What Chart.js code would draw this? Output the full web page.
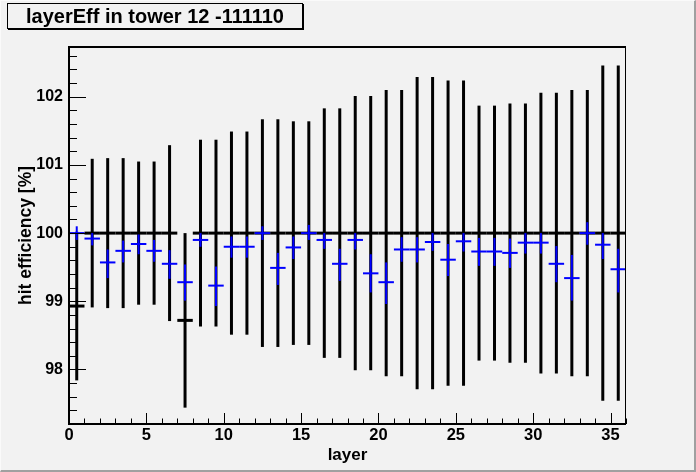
<!DOCTYPE html>
<html>
<head>
<meta charset="utf-8">
<script src="https://cdn.jsdelivr.net/npm/chart.js@4.4.1/dist/chart.umd.min.js"></script>
<style>
    html, body { margin: 0; padding: 0; background: #f2f2f2; }
    #wrap { position: relative; width: 696px; height: 472px; }
    #frame {
        position: absolute; left: 0; top: 0; width: 696px; height: 472px;
        box-sizing: border-box; pointer-events: none;
        border-top: 1px solid #fafafa; border-left: 1px solid #fafafa;
        border-right: 2px solid #a0a0a0; border-bottom: 2px solid #a0a0a0;
    }
    #title {
        position: absolute; left: 7px; top: 3px; width: 296px; height: 26px;
        box-sizing: border-box; border: 1px solid #000; box-shadow: 1px 1px 0 #000;
        background: #f2f2f2;
        font: bold 20px "Liberation Sans", Arial, sans-serif;
        text-align: center; line-height: 25px; color: #000;
    }
</style>
</head>
<body>
<div id="wrap">
    <canvas id="effChart" width="696" height="472"></canvas>
    <div id="title">layerEff in tower 12 -111110</div>
    <div id="frame"></div>
</div>
<script>
// layer index (bin low edge), one bin per layer
var layers = [0, 1, 2, 3, 4, 5, 6, 7, 8, 9, 10, 11, 12, 13, 14, 15, 16, 17,
    18, 19, 20, 21, 22, 23, 24, 25, 26, 27, 28, 29, 30, 31, 32, 33, 34, 35];

// black histogram: reference efficiency and its error
var refEff = [98.93, 100, 100, 100, 100, 100, 100, 98.72, 100, 100, 100, 100,
    100, 100, 100, 100, 100, 100, 100, 100, 100, 100, 100, 100,
    100, 100, 100, 100, 100, 100, 100, 100, 100, 100, 100, 100];
var refErr = [1.09, 1.09, 1.10, 1.10, 1.05, 1.05, 1.29, 1.28, 1.37, 1.37, 1.49, 1.49,
    1.67, 1.67, 1.64, 1.64, 1.83, 1.83, 2.01, 2.01, 2.10, 2.10, 2.29, 2.29,
    2.24, 2.24, 1.87, 1.87, 1.90, 1.90, 2.06, 2.06, 2.10, 2.10, 2.46, 2.46];

// blue points: measured hit efficiency, asymmetric errors
var hitEff = [100.0, 99.92, 99.57, 99.74, 99.84, 99.74, 99.55, 99.28, 99.90, 99.23, 99.80, 99.80,
    100.0, 99.49, 99.79, 100.0, 99.90, 99.55, 99.90, 99.41, 99.28, 99.76, 99.76, 99.87,
    99.61, 99.88, 99.73, 99.73, 99.71, 99.86, 99.86, 99.55, 99.34, 100.0, 99.83, 99.47];
var hitErrHi = [0.10, 0.08, 0.19, 0.15, 0.14, 0.16, 0.20, 0.26, 0.10, 0.28, 0.15, 0.15,
    0.10, 0.22, 0.16, 0.12, 0.10, 0.22, 0.10, 0.28, 0.29, 0.18, 0.18, 0.13,
    0.23, 0.12, 0.20, 0.20, 0.21, 0.14, 0.14, 0.26, 0.34, 0.16, 0.17, 0.30];
var hitErrLo = [0.10, 0.10, 0.23, 0.17, 0.15, 0.16, 0.22, 0.27, 0.10, 0.30, 0.16, 0.16,
    0.10, 0.25, 0.17, 0.10, 0.13, 0.25, 0.14, 0.28, 0.32, 0.18, 0.19, 0.13,
    0.24, 0.15, 0.21, 0.21, 0.22, 0.16, 0.16, 0.27, 0.33, 0.17, 0.21, 0.34];

var yLabels = [98, 99, 100, 101, 102];
var xLabels = [0, 5, 10, 15, 20, 25, 30, 35];

var fontFamily = '"Liberation Sans", Arial, sans-serif';

function seg(ctx, x0, y0, x1, y1) {
    ctx.beginPath();
    ctx.moveTo(x0, y0);
    ctx.lineTo(x1, y1);
    ctx.stroke();
}

// ROOT-like drawing: per-bin horizontal bars + vertical error bars, inner ticks, frame
var rootStyle = {
    id: "rootStyle",
    afterDatasetsDraw: function (chart) {
        var ctx = chart.ctx;
        var a = chart.chartArea;
        var xs = chart.scales.x;
        var ys = chart.scales.y;
        ctx.save();
        ctx.lineCap = "butt";

        // reference histogram
        ctx.strokeStyle = "#000";
        ctx.lineWidth = 3;
        layers.forEach(function (l, i) {
            var x0 = xs.getPixelForValue(l);
            var x1 = xs.getPixelForValue(l + 1);
            var xc = xs.getPixelForValue(l + 0.5);
            var yv = ys.getPixelForValue(refEff[i]);
            seg(ctx, x0, yv, x1, yv);
            seg(ctx, xc, ys.getPixelForValue(refEff[i] + refErr[i]),
                xc, ys.getPixelForValue(refEff[i] - refErr[i]));
        });

        // measured efficiency
        ctx.strokeStyle = "#0000ff";
        ctx.lineWidth = 2;
        layers.forEach(function (l, i) {
            var x0 = xs.getPixelForValue(l);
            var x1 = xs.getPixelForValue(l + 1);
            var xc = xs.getPixelForValue(l + 0.5);
            var yv = ys.getPixelForValue(hitEff[i]);
            seg(ctx, x0, yv, x1, yv);
            seg(ctx, xc, ys.getPixelForValue(hitEff[i] + hitErrHi[i]),
                xc, ys.getPixelForValue(hitEff[i] - hitErrLo[i]));
        });

        // tick marks inside the frame
        ctx.strokeStyle = "#000";
        ctx.lineWidth = 1;
        ys.ticks.forEach(function (t) {
            var py = Math.round(ys.getPixelForValue(t.value)) + 0.5;
            var major = Math.abs(t.value - Math.round(t.value)) < 1e-6;
            seg(ctx, a.left, py, a.left + (major ? 17 : 8), py);
        });
        xs.ticks.forEach(function (t) {
            var px = Math.round(xs.getPixelForValue(t.value)) + 0.5;
            var major = Math.round(t.value) % 5 === 0;
            seg(ctx, px, a.bottom, px, a.bottom - (major ? 11 : 5.5));
        });

        // frame
        ctx.lineWidth = 2;
        seg(ctx, a.left, a.top, a.right, a.top);
        seg(ctx, a.left, a.top - 1, a.left, a.bottom + 1);
        seg(ctx, a.left - 1, a.bottom, a.right, a.bottom);
        ctx.lineWidth = 1;
        seg(ctx, a.right - 0.5, a.top, a.right - 0.5, a.bottom);
        ctx.restore();
    },
};

var ctx_eff = document.getElementById("effChart");
var effChart = new Chart(ctx_eff, {
    type: "scatter",
    data: {
        datasets: [
            {
                label: "reference",
                data: layers.map(function (l, i) { return { x: l + 0.5, y: refEff[i] }; }),
                pointRadius: 0,
                showLine: false,
            },
            {
                label: "hit efficiency",
                data: layers.map(function (l, i) { return { x: l + 0.5, y: hitEff[i] }; }),
                pointRadius: 0,
                showLine: false,
            },
        ],
    },
    options: {
        responsive: false,
        animation: false,
        events: [],
        layout: { padding: { top: 47, right: 70, left: 0, bottom: 0 } },
        plugins: {
            legend: { display: false },
            tooltip: { enabled: false },
        },
        scales: {
            x: {
                type: "linear",
                min: 0,
                max: 36,
                grid: { display: false, drawTicks: false },
                border: { display: false },
                afterFit: function (scale) { scale.height = 48; },
                ticks: {
                    stepSize: 1,
                    maxTicksLimit: 100,
                    autoSkip: false,
                    maxRotation: 0,
                    minRotation: 0,
                    padding: 2,
                    color: "#000",
                    font: { family: fontFamily, size: 16.5, weight: "bold" },
                    callback: function (v) {
                        return xLabels.indexOf(Math.round(v)) >= 0 && Math.abs(v - Math.round(v)) < 1e-6 ? String(Math.round(v)) : "";
                    },
                },
                title: {
                    display: true,
                    text: "layer",
                    color: "#000",
                    padding: { top: 0, bottom: 6 },
                    font: { family: fontFamily, size: 17, weight: "bold" },
                },
            },
            y: {
                type: "linear",
                min: 97.2,
                max: 102.73,
                grid: { display: false, drawTicks: false },
                border: { display: false },
                afterFit: function (scale) { scale.width = 69; },
                ticks: {
                    stepSize: 0.2,
                    maxTicksLimit: 100,
                    autoSkip: false,
                    includeBounds: false,
                    padding: 6,
                    color: "#000",
                    font: { family: fontFamily, size: 16, weight: "bold" },
                    callback: function (v) {
                        var r = Math.round(v);
                        return Math.abs(v - r) < 1e-6 && yLabels.indexOf(r) >= 0 ? String(r) : "";
                    },
                },
                title: {
                    display: true,
                    text: "hit efficiency [%]",
                    color: "#000",
                    padding: { top: 16, bottom: 0 },
                    font: { family: fontFamily, size: 17.5, weight: "bold" },
                },
            },
        },
    },
    plugins: [rootStyle],
});
</script>
</body>
</html>
